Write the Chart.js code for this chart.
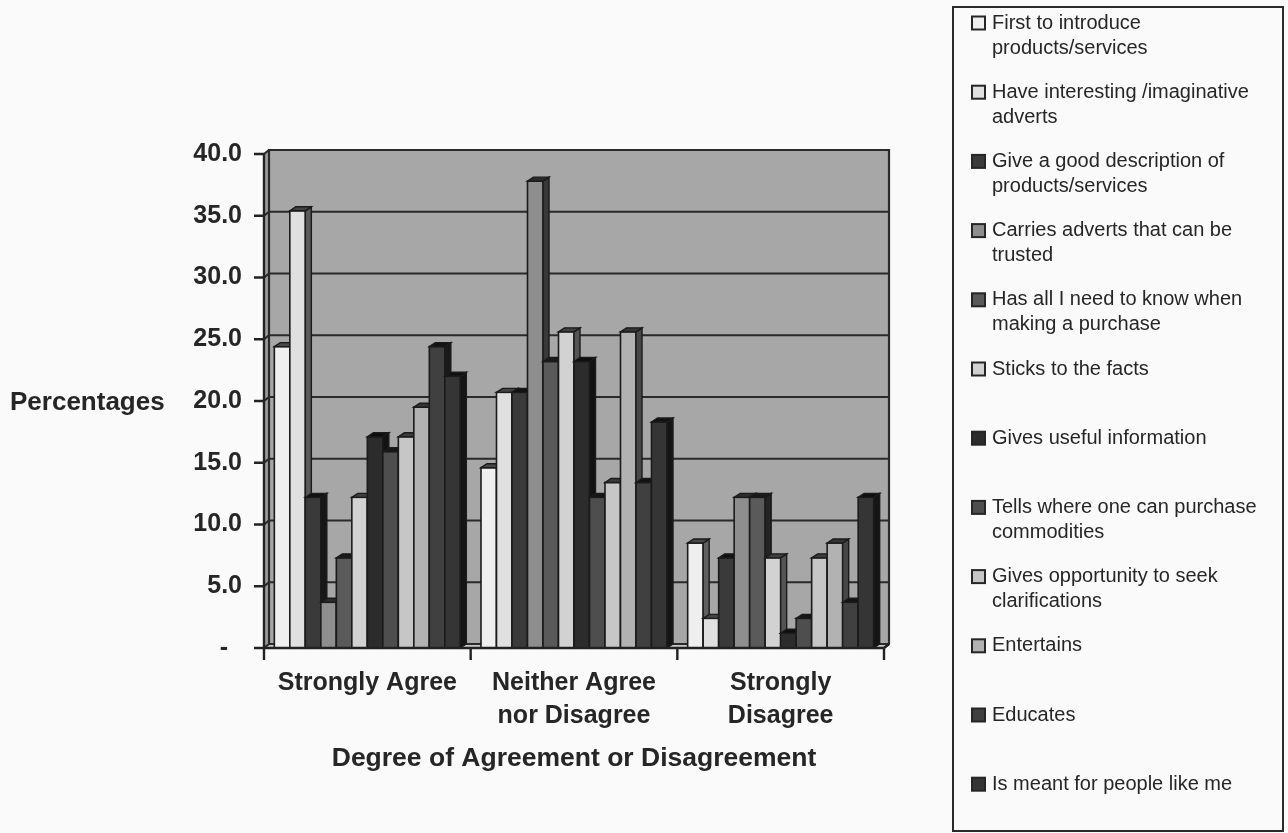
<!DOCTYPE html>
<html>
<head>
<meta charset="utf-8">
<title>Degree of Agreement or Disagreement</title>
<script src="https://cdn.jsdelivr.net/npm/chart.js@4.4.1/dist/chart.umd.min.js"></script>
<style>
  html, body { margin: 0; padding: 0; background: #fafafa; }
  canvas { display: block; }
</style>
</head>
<body>
<canvas id="chart" width="1288" height="833"></canvas>
<script>
// Response categories (x axis)
const categories = [["Strongly Agree"], ["Neither Agree", "nor Disagree"], ["Strongly", "Disagree"]];

// Statements rated by respondents
const seriesLabels = [
  "First to introduce products/services",
  "Have interesting /imaginative adverts",
  "Give a good description of products/services",
  "Carries adverts that can be trusted",
  "Has all I need to know when making a purchase",
  "Sticks to the facts",
  "Gives useful information",
  "Tells where one can purchase commodities",
  "Gives opportunity to seek clarifications",
  "Entertains",
  "Educates",
  "Is meant for people like me"
];

// Percentages per statement: [Strongly Agree, Neither, Strongly Disagree]
const firstToIntroduce   = [24.4, 14.6, 8.5];
const interestingAdverts = [35.4, 20.7, 2.4];
const goodDescription    = [12.2, 20.7, 7.3];
const trustedAdverts     = [3.7, 37.8, 12.2];
const allINeedToKnow     = [7.3, 23.2, 12.2];
const sticksToFacts      = [12.2, 25.6, 7.3];
const usefulInformation  = [17.1, 23.2, 1.2];
const whereToPurchase    = [15.9, 12.2, 2.4];
const seekClarifications = [17.1, 13.4, 7.3];
const entertains         = [19.5, 25.6, 8.5];
const educates           = [24.4, 13.4, 3.7];
const peopleLikeMe       = [22.0, 18.3, 12.2];

const seriesValues = [
  firstToIntroduce, interestingAdverts, goodDescription, trustedAdverts,
  allINeedToKnow, sticksToFacts, usefulInformation, whereToPurchase,
  seekClarifications, entertains, educates, peopleLikeMe
];

// Value axis
const yMin = 0, yMax = 40, yStep = 5;
const yAxisTitle = "Percentages";
const xAxisTitle = "Degree of Agreement or Disagreement";

// Greyscale fills for each statement
const seriesColors = [
  "#efefef", "#e0e0e0", "#3a3a3a", "#8e8e8e", "#5a5a5a", "#d2d2d2",
  "#2c2c2c", "#4e4e4e", "#c6c6c6", "#b2b2b2", "#404040", "#353535"
];

const FONT = '"Liberation Sans", Arial, Helvetica, sans-serif';
const INK = "#262626";
Chart.defaults.font.family = FONT;
Chart.defaults.color = INK;

const DEPTH = { dx: 6, dy: -4 };   // pseudo-3D offset for bars
const WALL = { dx: 5, dy: -4 };    // pseudo-3D offset for back wall

function shade(hex, f) {
  const n = parseInt(hex.slice(1), 16);
  const r = Math.round(((n >> 16) & 255) * f);
  const g = Math.round(((n >> 8) & 255) * f);
  const b = Math.round((n & 255) * f);
  return `rgb(${r},${g},${b})`;
}

function poly(ctx, pts, fill, stroke, lw) {
  ctx.beginPath();
  ctx.moveTo(pts[0][0], pts[0][1]);
  for (let k = 1; k < pts.length; k++) ctx.lineTo(pts[k][0], pts[k][1]);
  ctx.closePath();
  if (fill) { ctx.fillStyle = fill; ctx.fill(); }
  if (stroke) { ctx.strokeStyle = stroke; ctx.lineWidth = lw || 1; ctx.stroke(); }
}

// Walls, floor and 3D bars, drawn in left-to-right order
const box3d = {
  id: "box3d",
  beforeDatasetsDraw(chart) {
    const { ctx, chartArea: { left: L, right: R, top: T, bottom: B }, scales: { y } } = chart;
    const { dx, dy } = WALL;
    ctx.save();

    // floor
    poly(ctx, [[L, B], [L + dx, B + dy], [R + dx, B + dy], [R, B]], "#c9c9c9");
    // left wall
    poly(ctx, [[L, T], [L + dx, T + dy], [L + dx, B + dy], [L, B]], "#9d9d9d");
    // back wall
    ctx.fillStyle = "#a7a7a7";
    ctx.fillRect(L + dx, T + dy, R - L, B - T);

    // gridlines on back and left walls
    ctx.strokeStyle = "#2a2a2a";
    ctx.lineWidth = 2.2;
    for (let v = yMin; v <= yMax; v += yStep) {
      const py = y.getPixelForValue(v);
      ctx.beginPath();
      ctx.moveTo(L, py);
      ctx.lineTo(L + dx, py + dy);
      ctx.lineTo(R + dx, py + dy);
      ctx.stroke();
    }
    // wall edges
    ctx.beginPath();
    ctx.moveTo(L + dx, B + dy);
    ctx.lineTo(L + dx, T + dy);
    ctx.lineTo(R + dx, T + dy);
    ctx.lineTo(R + dx, B + dy);
    ctx.lineTo(R, B);
    ctx.stroke();

    // bars
    const n = chart.data.datasets.length;
    for (let j = 0; j < chart.data.labels.length; j++) {
      for (let i = 0; i < n; i++) {
        const meta = chart.getDatasetMeta(i);
        const el = meta.data[j];
        if (!el) continue;
        const { x, y: top, base, width } = el.getProps(["x", "y", "base", "width"], true);
        const l = x - width / 2, r = x + width / 2;
        const col = chart.data.datasets[i].backgroundColor;
        const bx = DEPTH.dx, by = DEPTH.dy;
        ctx.lineJoin = "miter";
        // front face
        ctx.fillStyle = col;
        ctx.fillRect(l, top, width, base - top);
        ctx.strokeStyle = "#1b1b1b";
        ctx.lineWidth = 1.6;
        ctx.strokeRect(l, top, width, base - top);
        // side face
        poly(ctx, [[r, top], [r + bx, top + by], [r + bx, base + by], [r, base]], shade(col, 0.4), "#1b1b1b", 1.4);
        // top face
        poly(ctx, [[l, top], [l + bx, top + by], [r + bx, top + by], [r, top]], shade(col, 0.3), "#1b1b1b", 1.4);
      }
    }
    ctx.restore();
    return false;
  },
  afterDraw(chart) {
    const { ctx, chartArea: { left: L, right: R, top: T, bottom: B }, scales: { y } } = chart;
    ctx.save();
    ctx.strokeStyle = "#222";
    ctx.lineWidth = 2.4;
    // front value axis and tick marks
    ctx.beginPath();
    ctx.moveTo(L, T);
    ctx.lineTo(L, B + 12);
    for (let v = yMin; v <= yMax; v += yStep) {
      const py = y.getPixelForValue(v);
      ctx.moveTo(L - 10, py);
      ctx.lineTo(L, py);
    }
    // front category axis with boundary ticks
    ctx.moveTo(L - 10, B);
    ctx.lineTo(R, B);
    ctx.lineTo(R + WALL.dx, B + WALL.dy);
    const count = chart.data.labels.length;
    for (let k = 0; k <= count; k++) {
      const px = L + (R - L) * k / count;
      ctx.moveTo(px, B);
      ctx.lineTo(px, B + 12);
    }
    ctx.stroke();

    // horizontal value-axis title
    ctx.fillStyle = INK;
    ctx.font = `bold 26px ${FONT}`;
    ctx.textAlign = "left";
    ctx.textBaseline = "middle";
    ctx.fillText(yAxisTitle, 10, y.getPixelForValue((yMin + yMax) / 2) + 2);
    ctx.restore();
  }
};

// Boxed legend on the right, with wrapped entries spaced evenly
const boxedLegend = {
  id: "boxedLegend",
  afterDraw(chart) {
    const { ctx } = chart;
    const boxL = 953, boxT = 7, boxW = 330, boxH = 824;
    const textX = 992, swatchX = 972, sw = 13;
    const firstY = 23, stepY = 69.2, lineGap = 25, maxW = 285;
    ctx.save();
    ctx.strokeStyle = "#2a2a2a";
    ctx.lineWidth = 2;
    ctx.strokeRect(boxL, boxT, boxW, boxH);
    ctx.font = `20px ${FONT}`;
    ctx.textAlign = "left";
    ctx.textBaseline = "middle";
    chart.data.datasets.forEach((ds, i) => {
      const cy = firstY + i * stepY;
      ctx.fillStyle = ds.backgroundColor;
      ctx.fillRect(swatchX, cy - sw / 2, sw, sw);
      ctx.strokeStyle = "#262626";
      ctx.lineWidth = 2;
      ctx.strokeRect(swatchX, cy - sw / 2, sw, sw);
      // wrap label text
      const words = ds.label.split(" ");
      const lines = [];
      let cur = "";
      words.forEach(w => {
        const test = cur ? cur + " " + w : w;
        if (ctx.measureText(test).width > maxW && cur) { lines.push(cur); cur = w; }
        else cur = test;
      });
      if (cur) lines.push(cur);
      ctx.fillStyle = INK;
      lines.forEach((ln, k) => ctx.fillText(ln, textX, cy + k * lineGap));
    });
    ctx.restore();
  }
};

const datasets = seriesLabels.map((label, i) => ({
  label,
  data: seriesValues[i],
  backgroundColor: seriesColors[i],
  borderWidth: 0,
  categoryPercentage: 0.9,
  barPercentage: 1.0
}));

new Chart(document.getElementById("chart"), {
  type: "bar",
  data: { labels: categories, datasets },
  plugins: [box3d, boxedLegend],
  options: {
    responsive: false,
    animation: false,
    devicePixelRatio: 1,
    layout: { padding: { left: 0, top: 154, right: 404, bottom: 0 } },
    plugins: { legend: { display: false }, tooltip: { enabled: false } },
    scales: {
      x: {
        grid: { display: false, drawTicks: false },
        border: { display: false },
        ticks: {
          font: { size: 25, weight: "bold", lineHeight: 1.3 },
          color: INK,
          padding: 19,
          maxRotation: 0,
          autoSkip: false
        },
        title: {
          display: true,
          text: xAxisTitle,
          font: { size: 26.5, weight: "bold" },
          color: INK,
          padding: { top: 0, bottom: 58 }
        },
        afterFit(scale) { scale.height = 185; }
      },
      y: {
        min: yMin,
        max: yMax,
        grid: { display: false, drawTicks: false },
        border: { display: false },
        ticks: {
          stepSize: yStep,
          font: { size: 25, weight: "bold" },
          color: INK,
          padding: 22,
          callback: v => (v === 0 ? "-  " : Number(v).toFixed(1))
        },
        afterFit(scale) { scale.width = 264; }
      }
    }
  }
});
</script>
</body>
</html>
